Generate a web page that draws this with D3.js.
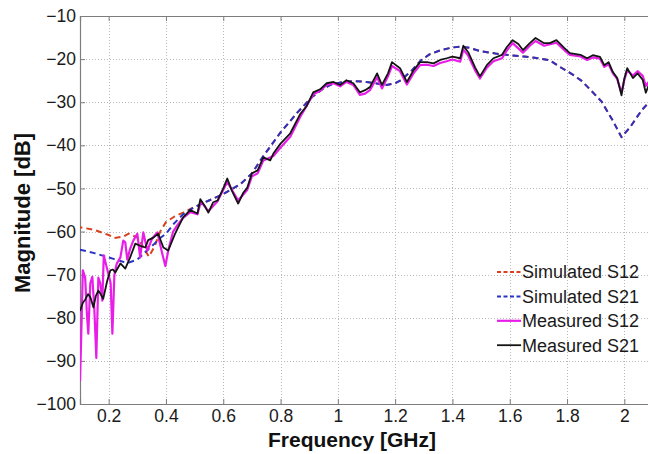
<!DOCTYPE html>
<html>
<head>
<meta charset="utf-8">
<script src="https://cdn.jsdelivr.net/npm/d3@7"></script>
<style>
  html, body { margin: 0; padding: 0; background: #fff; }
  svg { display: block; font-family: "Liberation Sans", Arial, sans-serif; }
</style>
</head>
<body>
<svg id="chart" width="648" height="454"></svg>
<script>
// Frequency grid of the simulated responses (GHz)
const simFreq = [0.10,0.15,0.20,0.22,0.25,0.27,0.30,0.32,0.34,0.36,0.38,0.40,0.43,0.46,0.50,0.55,0.60,0.66,0.70,0.74,0.80,0.86,0.91,0.95,0.98,1.02,1.06,1.10,1.14,1.17,1.20,1.22,1.26,1.29,1.32,1.36,1.40,1.43,1.46,1.50,1.55,1.60,1.65,1.70,1.74,1.78,1.82,1.85,1.88,1.92,1.96,1.99,2.02,2.06,2.10];
// Simulated S12 (dB)
const simS12 = [-59,-59.6,-60.8,-61.5,-61.2,-60.5,-61.4,-63.5,-65.8,-63.5,-60,-57.8,-56.5,-55.6,-54.3,-52.8,-51.3,-49,-46.5,-42.5,-37,-32.3,-28.8,-26.8,-25.8,-25.3,-25.1,-25.3,-25.7,-26,-25.6,-24.9,-22.5,-20.3,-18.9,-17.9,-17.3,-17.1,-17.4,-18.2,-18.7,-19.1,-19.4,-19.8,-20.3,-22,-23.6,-25,-27,-29.8,-34.3,-38.1,-35.8,-31.9,-29];
// Simulated S21 (dB)
const simS21 = [-64.2,-65,-66,-66.4,-67,-67.2,-66.5,-65.3,-64,-62.8,-61.5,-60.5,-58,-56,-54.3,-52.8,-51.3,-49,-46.5,-42.5,-37,-32.3,-28.8,-26.8,-25.8,-25.3,-25.1,-25.3,-25.7,-26,-25.6,-24.9,-22.5,-20.3,-18.9,-17.9,-17.3,-17.1,-17.4,-18.2,-18.7,-19.1,-19.4,-19.8,-20.3,-22,-23.6,-25,-27,-29.8,-34.3,-38.1,-35.8,-31.9,-29];

// Measured S12: frequency (GHz) and magnitude (dB)
const measS12Freq = [0.100,0.104,0.110,0.118,0.124,0.129,0.136,0.143,0.150,0.157,0.164,0.171,0.178,0.183,0.192,0.200,0.207,0.213,0.220,0.228,0.241,0.251,0.258,0.265,0.275,0.286,0.300,0.310,0.321,0.335,0.352,0.370,0.387,0.398,0.408,0.425,0.440,0.460,0.485,0.510,0.522,0.548,0.580,0.614,0.652,0.684,0.700,0.720,0.740,0.775,0.800,0.834,0.868,0.914,0.938,0.961,0.985,1.008,1.030,1.054,1.077,1.095,1.112,1.137,1.154,1.175,1.189,1.217,1.241,1.264,1.287,1.311,1.334,1.357,1.380,1.400,1.427,1.438,1.455,1.479,1.496,1.520,1.543,1.573,1.590,1.610,1.646,1.670,1.690,1.720,1.763,1.790,1.810,1.847,1.870,1.890,1.915,1.930,1.945,1.960,1.975,1.990,2.000,2.010,2.030,2.046,2.064,2.075,2.090,2.100];
const measS12 = [-94.7,-85,-69,-70.7,-79,-83.7,-72,-70.5,-78,-89.3,-70.7,-72,-76,-65.5,-68,-70,-72,-83.7,-70,-67.5,-66,-62.1,-62.5,-66.5,-64,-62.1,-60.5,-66,-60.2,-64.4,-61.6,-60.2,-65.1,-68,-64.4,-60,-58.5,-56.8,-55.5,-56,-53,-55.3,-53,-48.5,-52.8,-50.3,-47.2,-46.5,-43.5,-42.5,-40.5,-38,-33.5,-28.2,-27.3,-26,-25.6,-26.3,-25.3,-26,-28.3,-28,-27.2,-24.2,-26.8,-24,-21.6,-22.8,-25.9,-23.3,-21.4,-21.3,-21.6,-20.9,-20.5,-20.1,-20.6,-17.8,-19.2,-22.6,-24.5,-22,-20.5,-19.8,-18,-16.3,-18.5,-16.9,-15.8,-16.9,-16.2,-17.9,-19,-19.4,-20.2,-19.6,-19.9,-21.8,-21.2,-23.3,-24.6,-27.8,-24.8,-22.6,-23.8,-22.8,-23.9,-26.2,-24.8,-25.8];

// Measured S21: frequency (GHz) and magnitude (dB)
const measS21Freq = [0.100,0.110,0.118,0.128,0.136,0.147,0.155,0.164,0.172,0.181,0.195,0.206,0.215,0.223,0.241,0.258,0.275,0.293,0.310,0.328,0.338,0.356,0.373,0.391,0.408,0.432,0.460,0.485,0.510,0.520,0.535,0.548,0.565,0.580,0.600,0.614,0.630,0.652,0.670,0.684,0.700,0.720,0.740,0.764,0.775,0.800,0.834,0.868,0.890,0.914,0.938,0.961,0.985,1.008,1.030,1.054,1.077,1.095,1.112,1.137,1.154,1.175,1.189,1.217,1.241,1.264,1.287,1.311,1.334,1.357,1.380,1.400,1.427,1.438,1.455,1.479,1.496,1.520,1.543,1.573,1.590,1.610,1.630,1.646,1.670,1.690,1.720,1.740,1.763,1.790,1.810,1.847,1.870,1.890,1.915,1.930,1.945,1.960,1.975,1.990,2.000,2.010,2.030,2.046,2.064,2.075,2.090,2.100];
const measS21 = [-78.4,-76.5,-75.8,-74.5,-75.2,-77.6,-75,-73.7,-74.5,-75.6,-71.4,-69,-68.8,-69.5,-67.4,-68.6,-66,-62.8,-63.3,-63.7,-62,-61.4,-60.5,-63.7,-64.4,-60.5,-56.7,-55,-55.8,-52.5,-54,-55.6,-53.2,-52.8,-50,-47.7,-50.5,-53.5,-51,-49.8,-46.5,-45.8,-42.8,-43.5,-41.9,-39.6,-37.2,-32.8,-31,-27.7,-27,-25.6,-25.3,-26,-24.9,-25.6,-27.7,-27.2,-26.5,-23.3,-26,-23.3,-20.7,-22.1,-25.3,-22.6,-20.7,-20.7,-21,-20.2,-19.8,-19.4,-19.8,-16.9,-18.4,-21.9,-24,-21.4,-19.8,-19,-17.2,-15.6,-16.5,-17.9,-16.3,-15.1,-16.3,-16.3,-15.6,-17.4,-18.6,-19,-19.8,-19.1,-19.5,-21.4,-20.7,-23,-24.4,-28.4,-24.5,-22.1,-24.4,-23.3,-24.8,-27.8,-25.2,-26.5];

// Axis ticks and labels
const xTicks = [0.2,0.4,0.6,0.8,1.0,1.2,1.4,1.6,1.8,2.0];
const yTicks = [-100,-90,-80,-70,-60,-50,-40,-30,-20,-10];
const xTitle = "Frequency [GHz]";
const yTitle = "Magnitude [dB]";
const legendLabels = ["Simulated S12","Simulated S21","Measured S12","Measured S21"];

const svg = d3.select("#chart");
const W = 648, H = 454;
const plot = { left: 80, top: 16, right: 653, bottom: 404 };

const x = d3.scaleLinear().domain([0.1, 2.1]).range([plot.left, plot.right]);
const y = d3.scaleLinear().domain([-100, -10]).range([plot.bottom, plot.top]);

svg.append("rect").attr("width", W).attr("height", H).attr("fill", "#fff");

svg.append("defs").append("clipPath").attr("id", "plotClip")
  .append("rect")
  .attr("x", plot.left).attr("y", plot.top)
  .attr("width", plot.right - plot.left).attr("height", plot.bottom - plot.top);

// dotted grid
const grid = svg.append("g").attr("stroke", "#b8b8b8").attr("stroke-width", 1)
  .attr("stroke-dasharray", "1,2");
grid.selectAll(".gx").data(xTicks).join("line")
  .attr("x1", d => Math.round(x(d)) + 0.5).attr("x2", d => Math.round(x(d)) + 0.5)
  .attr("y1", plot.top).attr("y2", plot.bottom);
grid.selectAll(".gy").data(yTicks.filter(v => v > -100 && v < -10)).join("line")
  .attr("y1", d => Math.round(y(d)) + 0.5).attr("y2", d => Math.round(y(d)) + 0.5)
  .attr("x1", plot.left).attr("x2", plot.right);

// axes (inward ticks)
const axisColor = "#7d7d7d";
const xAxis = svg.append("g").attr("transform", `translate(0,${plot.bottom})`)
  .call(d3.axisBottom(x).tickValues(xTicks).tickSize(-5).tickPadding(6)
    .tickFormat(d => d3.format("~g")(d)));
const xTop = svg.append("g").attr("transform", `translate(0,${plot.top})`)
  .call(d3.axisTop(x).tickValues(xTicks).tickSize(-5).tickFormat(""));
const yAxis = svg.append("g").attr("transform", `translate(${plot.left},0)`)
  .call(d3.axisLeft(y).tickValues(yTicks).tickSize(-5).tickPadding(4));

[xAxis, xTop, yAxis].forEach(g => {
  g.select(".domain").attr("stroke", axisColor).attr("stroke-width", 1.2);
  g.selectAll(".tick line").attr("stroke", axisColor);
  g.selectAll(".tick text").attr("fill", "#1a1a1a").attr("font-size", 17.5)
    .attr("font-family", "Liberation Sans, Arial, sans-serif");
});

// series
const simLine = d3.line().x(d => x(d[0])).y(d => y(d[1]));
const measLine = d3.line().x(d => x(d[0])).y(d => y(d[1]));
const lines = svg.append("g").attr("clip-path", "url(#plotClip)").attr("fill", "none")
  .attr("stroke-linejoin", "round");

const series = [
  { pts: d3.zip(simFreq, simS12), color: "#d8401e", width: 2, dash: "6,4", gen: simLine },
  { pts: d3.zip(simFreq, simS21), color: "#2a34c4", width: 2, dash: "6,4", gen: simLine },
  { pts: d3.zip(measS12Freq, measS12), color: "#e81ee8", width: 2.2, dash: null, gen: measLine },
  { pts: d3.zip(measS21Freq, measS21), color: "#141414", width: 1.8, dash: null, gen: measLine }
];

// where the two simulated curves join, shift the S12 dash phase so its dashes sit under S21's
const joinIdx = simFreq.indexOf(0.50);
function lengthTo(pts, k) {
  const p = svg.append("path").attr("d", simLine(pts.slice(0, k + 1)));
  const L = p.node().getTotalLength();
  p.remove();
  return L;
}
const dashShift = lengthTo(series[1].pts, joinIdx) - lengthTo(series[0].pts, joinIdx);

series.forEach((s, i) => {
  lines.append("path").datum(s.pts)
    .attr("d", s.gen)
    .attr("stroke", s.color)
    .attr("stroke-width", s.width)
    .attr("stroke-dasharray", s.dash)
    .attr("stroke-dashoffset", i === 0 ? dashShift : null);
});

// legend
const leg = svg.append("g");
const legY0 = 272, legStep = 24.4;
series.forEach((s, i) => {
  const ly = legY0 + i * legStep;
  leg.append("line").attr("x1", 497).attr("x2", 521).attr("y1", ly).attr("y2", ly)
    .attr("stroke", s.color).attr("stroke-width", s.width)
    .attr("stroke-dasharray", s.dash ? "4,2.5" : null);
  leg.append("text").attr("x", 522).attr("y", ly).attr("dy", "0.35em")
    .attr("font-size", 18).attr("fill", "#1a1a1a").text(legendLabels[i]);
});

// axis titles
svg.append("text").attr("x", 352).attr("y", 447)
  .attr("text-anchor", "middle").attr("font-size", 21).attr("font-weight", "bold")
  .attr("fill", "#111").text(xTitle);
svg.append("text")
  .attr("transform", `translate(30,213) rotate(-90)`)
  .attr("text-anchor", "middle").attr("font-size", 22).attr("font-weight", "bold")
  .attr("fill", "#111").text(yTitle);
</script>
</body>
</html>
